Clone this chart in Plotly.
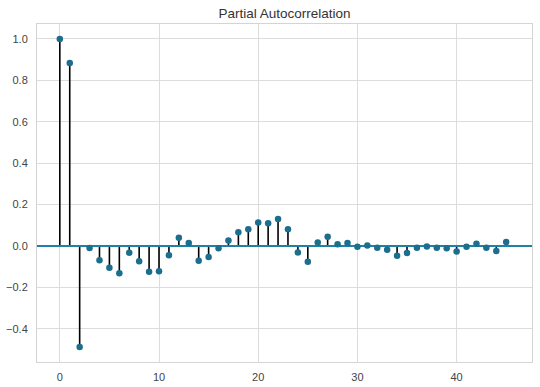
import plotly.graph_objects as go

lags = list(range(46))
pacf = [1.0, 0.884, -0.487, -0.010, -0.069, -0.105, -0.132, -0.032, -0.073, -0.124,
        -0.122, -0.045, 0.040, 0.014, -0.071, -0.053, -0.011, 0.027, 0.066, 0.081,
        0.113, 0.110, 0.131, 0.081, -0.031, -0.076, 0.017, 0.045, 0.009, 0.015,
        -0.003, 0.002, -0.008, -0.018, -0.047, -0.034, -0.008, -0.002, -0.008, -0.011,
        -0.027, -0.003, 0.011, -0.008, -0.024, 0.019]
x_ticks = [0, 10, 20, 30, 40]
y_ticks = [-0.4, -0.2, 0.0, 0.2, 0.4, 0.6, 0.8, 1.0]
X_RANGE = [-2.3, 47.6]
Y_RANGE = [-0.56, 1.072]

TEAL = "#1b6e8e"
LINE = "#2180a8"

stem_x, stem_y = [], []
for k, v in zip(lags, pacf):
    stem_x += [k, k, None]
    stem_y += [0, v, None]

fig = go.Figure()
fig.add_trace(go.Scatter(x=stem_x, y=stem_y, mode="lines",
                         line=dict(color="black", width=1.6), hoverinfo="skip"))
fig.add_trace(go.Scatter(x=X_RANGE, y=[0, 0], mode="lines",
                         line=dict(color=LINE, width=2), hoverinfo="skip"))
fig.add_trace(go.Scatter(x=lags, y=pacf, mode="markers",
                         marker=dict(color=TEAL, size=6.5)))

axis_common = dict(showgrid=True, gridcolor="#dcdcdc", gridwidth=1, zeroline=False,
                   showline=True, linecolor="#d4d4d4", linewidth=1, mirror=True,
                   ticks="outside", tickcolor="rgba(0,0,0,0)", automargin=False,
                   tickfont=dict(family="Liberation Sans, Arial, sans-serif", size=11, color="#444"))

fig.update_layout(
    width=540, height=387,
    margin=dict(l=37, r=8, t=24, b=25),
    paper_bgcolor="white", plot_bgcolor="white",
    showlegend=False,
    title=dict(text="Partial Autocorrelation", x=(37 + 532) / 2 / 540, xanchor="center",
               y=1 - 13 / 387, yanchor="middle", yref="container",
               font=dict(family="Liberation Sans, Arial, sans-serif", size=13.5, color="#333")),
    xaxis=dict(range=X_RANGE, tickvals=x_ticks, ticklen=5, **axis_common),
    yaxis=dict(range=Y_RANGE, tickvals=y_ticks, tickformat=".1f", ticklen=6, **axis_common),
)

fig.write_html("out.html", config={"displayModeBar": False},
               post_script="document.body.style.margin='0';document.body.style.overflow='hidden';")
